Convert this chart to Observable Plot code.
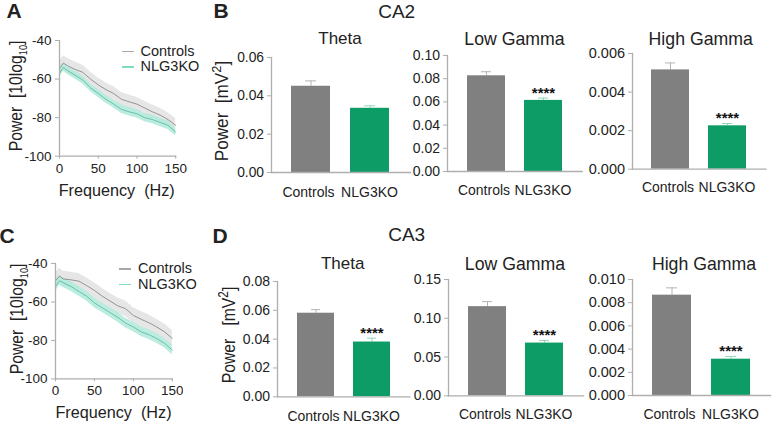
<!DOCTYPE html>
<html><head><meta charset="utf-8">
<script src="https://cdn.jsdelivr.net/npm/d3@7"></script>
<script src="https://cdn.jsdelivr.net/npm/@observablehq/plot@0.6"></script>
<style>
html,body{margin:0;padding:0;background:#fff;}
#page{position:relative;width:772px;height:422px;overflow:hidden;font-family:"Liberation Sans",Arial,sans-serif;color:#222;}
#page svg{position:absolute;background:transparent;}
.t{position:absolute;white-space:pre;line-height:1.15;transform:translate(-50%,-50%);}
.t sub,.t sup{line-height:0;}
.sw{position:absolute;height:1.5px;}
</style></head><body><div id="page"></div>
<script>
const groups = ["Controls","NLG3KO"];
const freq = [0,5,10,20,30,40,50,60,70,80,90,100,110,120,130,140,150];
const aControls = [-54.5,-51.7,-53,-55,-56.5,-60,-63,-65.5,-67.5,-70.5,-71.8,-73,-75,-77,-78.7,-81,-84];
const aControlsBand = [3.5,3.8,3.8,3.8,3.6,3.6,3.6,3.5,3.5,3.5,3.5,3.5,3.5,3.5,3.5,3.5,3.5];
const aKO = [-57,-54,-55.5,-58,-60.5,-64.5,-67.5,-70.5,-73,-75.7,-77,-78,-80,-81,-82.5,-84,-87.5];
const aKOBand = [2,2,2,2,2,2,2,2,2,2.2,2.2,2.2,2.2,2.2,2.2,2.2,2];
const cControls = [-49,-46.5,-48,-48.5,-49.2,-51.5,-54,-57,-59.5,-62,-63.5,-67,-69,-70.8,-73,-75.5,-79];
const cControlsBand = [4,4,4,4,4,4,4,4,4,4,4,4,4,4,4,4,4];
const cKO = [-52,-49,-50,-52,-54.5,-57,-60.5,-63,-65.5,-68,-71,-73,-75.5,-77,-79,-81.5,-85];
const cKOBand = [2.5,2.5,2.5,2.5,2.5,2.5,2.5,2.5,2.5,2.5,2.5,2.5,2.5,2.5,2.5,2.5,2.5];

const b1Values=[0.045,0.0335], b1Errors=[0.0028,0.0013], b1Stars=["",""], b1Ticks=[0,0.02,0.04,0.06];
const b2Values=[0.0825,0.0613], b2Errors=[0.0035,0.002], b2Stars=["","****"], b2Ticks=[0,0.02,0.04,0.06,0.08,0.1];
const b3Values=[0.00515,0.00225], b3Errors=[0.00036,0.00012], b3Stars=["","****"], b3Ticks=[0,0.002,0.004,0.006];
const d1Values=[0.058,0.038], d1Errors=[0.0025,0.0027], d1Stars=["","****"], d1Ticks=[0,0.02,0.04,0.06,0.08];
const d2Values=[0.115,0.068], d2Errors=[0.0065,0.0032], d2Stars=["","****"], d2Ticks=[0,0.05,0.1,0.15];
const d3Values=[0.00865,0.00313], d3Errors=[0.00063,0.00024], d3Stars=["","****"], d3Ticks=[0,0.002,0.004,0.006,0.008,0.01];

const page = document.getElementById("page");
const GRAY="#aeaeae", FONT='"Liberation Sans",Arial,sans-serif';
const place=(svg,l,t)=>{svg.style.left=l+"px";svg.style.top=t+"px";page.appendChild(svg);};
function label(html,x,y,size){const d=document.createElement("div");d.className="t";d.innerHTML=html;d.style.left=x+"px";d.style.top=y+"px";d.style.fontSize=size+"px";page.appendChild(d);return d;}
function vlabel(html,x,y,size,sx){const d=label(html,x,y,size);d.style.transform=`translate(-50%,-50%) rotate(-90deg) scaleX(${sx})`;return d;}

function linePanel({ax,top,bottom,end,ctl,ctlB,ko,koB}){
  const ml=40,mt=10,mr=12,mb=28;
  const rows=(v,b)=>freq.map((f,i)=>({f,v:v[i],lo:v[i]-b[i],hi:v[i]+b[i]}));
  const c=rows(ctl,ctlB),k=rows(ko,koB);
  const svg=Plot.plot({width:end-ax+ml+mr,height:bottom-top+mt+mb,marginLeft:ml,marginTop:mt,marginRight:mr,marginBottom:mb,
    style:{fontFamily:FONT,fontSize:"13.5px",background:"transparent"},
    x:{domain:[0,150],axis:null},y:{domain:[-100,-40],axis:null},
    marks:[
      Plot.areaY(c,{x:"f",y1:"lo",y2:"hi",fill:"#e6e6e6"}),
      Plot.areaY(k,{x:"f",y1:"lo",y2:"hi",fill:"#aeeadb",fillOpacity:0.85}),
      Plot.lineY(c,{x:"f",y:"v",stroke:"#8a8a8a",strokeWidth:0.9}),
      Plot.lineY(k,{x:"f",y:"v",stroke:"#63b8a0",strokeWidth:0.9}),
      Plot.frame({anchor:"left",stroke:GRAY,strokeWidth:1.3}),
      Plot.frame({anchor:"bottom",stroke:GRAY,strokeWidth:1.3}),
      Plot.axisY({ticks:[-100,-80,-60,-40],tickFormat:d=>String(d),tickSize:4,tickPadding:4,stroke:GRAY,fill:"#222",label:null}),
      Plot.axisX({ticks:[0,50,100,150],tickFormat:d=>String(d),tickSize:3,tickPadding:4,stroke:GRAY,fill:"#222",label:null})
    ]});
  place(svg,ax-ml,top-mt);
}
function barPanel({ax,top,bottom,end,max,values,errors,stars,ticks,digits,fontSize,pad}){
  const ml=52,mt=10,mr=4,mb=32;
  const rows=groups.map((g,i)=>({g,v:values[i],hi:values[i]+errors[i],s:stars[i]}));
  const col=d3.scaleOrdinal(groups,["#808080","#0e9c66"]);
  const ecol=d3.scaleOrdinal(groups,["#b4b4b4","#8fd8bd"]);
  const svg=Plot.plot({width:end-ax+ml+mr,height:bottom-top+mt+mb,marginLeft:ml,marginTop:mt,marginRight:mr,marginBottom:mb,
    style:{fontFamily:FONT,fontSize:fontSize+"px",background:"transparent"},
    x:{domain:groups,padding:0.337,axis:null},y:{domain:[0,max],axis:null},
    marks:[
      Plot.ruleX(rows,{x:"g",y1:"v",y2:"hi",stroke:d=>ecol(d.g),strokeWidth:1}),
      Plot.tickY(rows,{x:"g",y:"hi",stroke:d=>ecol(d.g),strokeWidth:1,inset:14}),
      Plot.barY(rows,{x:"g",y:"v",fill:d=>col(d.g)}),
      Plot.text(rows,{x:"g",y:"hi",text:"s",fontWeight:"bold",fontSize:15,fill:"#111",dy:-5}),
      Plot.frame({anchor:"left",stroke:GRAY,strokeWidth:1.3}),
      Plot.frame({anchor:"bottom",stroke:GRAY,strokeWidth:1.3}),
      Plot.axisY({ticks,tickFormat:d=>d.toFixed(digits),tickSize:4,tickPadding:3.5,stroke:GRAY,fill:"#222",label:null}),
      Plot.axisX({ticks:[groups[0]],dx:-2.5,tickSize:0,tickPadding:pad,fontSize:14,fill:"#222",label:null}),
      Plot.axisX({ticks:[groups[1]],dx:-0.5,tickSize:0,tickPadding:pad,fontSize:14,fill:"#222",label:null})
    ]});
  place(svg,ax-ml,top-mt);
}

linePanel({ax:58.5,top:40,bottom:155.7,end:174.7,ctl:aControls,ctlB:aControlsBand,ko:aKO,koB:aKOBand});
linePanel({ax:54.5,top:263.3,bottom:378.7,end:171.3,ctl:cControls,ctlB:cControlsBand,ko:cKO,koB:cKOBand});
barPanel({ax:271,top:56.7,bottom:171.7,end:410,max:0.06,values:b1Values,errors:b1Errors,stars:b1Stars,ticks:b1Ticks,digits:2,fontSize:13.8,pad:14.5});
barPanel({ax:447.3,top:55,bottom:171,end:582,max:0.1,values:b2Values,errors:b2Errors,stars:b2Stars,ticks:b2Ticks,digits:2,fontSize:14,pad:14});
barPanel({ax:632.3,top:53.3,bottom:169,end:765.7,max:0.006,values:b3Values,errors:b3Errors,stars:b3Stars,ticks:b3Ticks,digits:3,fontSize:14.5,pad:12.5});
barPanel({ax:276.7,top:280.7,bottom:396,end:409,max:0.08,values:d1Values,errors:d1Errors,stars:d1Stars,ticks:d1Ticks,digits:2,fontSize:14,pad:14});
barPanel({ax:448,top:278.7,bottom:395,end:583,max:0.15,values:d2Values,errors:d2Errors,stars:d2Stars,ticks:d2Ticks,digits:2,fontSize:14,pad:13.5});
barPanel({ax:632,top:279,bottom:395,end:770,max:0.01,values:d3Values,errors:d3Errors,stars:d3Stars,ticks:d3Ticks,digits:3,fontSize:14.5,pad:14});

const B='<b>';
label(B+"A</b>",14,11,21); label(B+"B</b>",221,11,21);
label(B+"C</b>",7,236,21); label(B+"D</b>",220,236,21);
label("CA2",396.7,12,19); label("CA3",406.7,235,19);
[["Theta",340,39,17],["Low Gamma",514.5,39,17.7],["High Gamma",700.7,39,17.7],["Theta",342.7,263.7,17],["Low Gamma",515,263.7,17.7],["High Gamma",704,263.7,17.7]]
  .forEach(([s,x,y,z])=>label(s,x,y,z));
label("Frequency  (Hz)",116.7,190,16.2); label("Frequency  (Hz)",113.5,412,16.2);
const pa='Power  [10log<sub style="font-size:58%">10</sub>]';
const pb='Power  [mV<sup style="font-size:75%">2</sup>]';
vlabel(pa,16,96,18.5,0.85); vlabel(pa,17,319,18.5,0.85);
vlabel(pb,222,111,18,0.95); vlabel(pb.replace("  ","   "),229,335,18.5,0.85);

function legend(x,y,gap){
  [["Controls","#a8a8a8"],["NLG3KO","#7fdcc0"]].forEach(([s,c],i)=>{
    const yy=y+i*gap;
    const d=document.createElement("div");d.className="sw";d.style.cssText=`left:${x}px;top:${yy}px;width:12px;background:${c}`;page.appendChild(d);
    const t=label(s,0,yy,14.5);t.style.left=(x+19)+"px";t.style.transform="translate(0,-50%)";
  });
}
legend(121.5,50.7,15.7);
legend(119,268,15.5);
</script></body></html>
